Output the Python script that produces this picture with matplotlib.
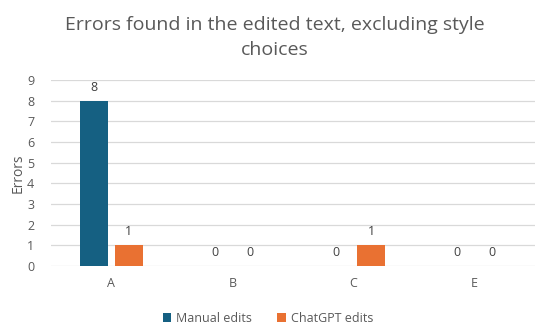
import matplotlib.pyplot as plt
import numpy as np

categories = ["A", "B", "C", "E"]
manual = [8, 0, 0, 0]
chatgpt = [1, 0, 1, 0]

plt.rcParams['font.family'] = ['Open Sans', 'DejaVu Sans']
txt = '#595959'

fig = plt.figure(figsize=(5.36, 3.25), dpi=100)
ax = fig.add_axes([0.095, 0.1815, 0.903, 0.5725])

x = np.arange(len(categories))
w = 0.23
off = 0.145
b1 = ax.bar(x - off, manual, w, color='#156082', label='Manual edits', zorder=3)
b2 = ax.bar(x + off, chatgpt, w, color='#E97132', label='ChatGPT edits', zorder=3)
for bars in (b1, b2):
    for r in bars:
        ax.annotate(f"{int(r.get_height())}", (r.get_x() + r.get_width() / 2, r.get_height()),
                    xytext=(0, 5), textcoords='offset points', ha='center', va='bottom',
                    fontsize=9, color='#404040')

ax.set_xlim(-0.5, len(categories) - 0.5)
ax.set_ylim(0, 9)
ax.set_yticks(range(0, 10))
ax.set_xticks(x)
ax.set_xticklabels(categories)
ax.tick_params(axis='both', length=0, labelsize=9, colors=txt)
ax.tick_params(axis='x', pad=8)
ax.tick_params(axis='y', pad=12)
ax.grid(axis='y', color='#D9D9D9', linewidth=0.9, zorder=0)
for s in ax.spines.values():
    s.set_visible(False)
ax.set_ylabel("Errors", fontsize=10, color=txt, labelpad=1)

fig.text(0.513, 0.952, "Errors found in the edited text, excluding style\nchoices",
         ha='center', va='top', fontsize=14, color=txt, linespacing=1.5)

fig.legend(handles=[b1, b2], loc='lower center', bbox_to_anchor=(0.5, -0.035), ncol=2,
           frameon=False, fontsize=9, labelcolor=txt, handlelength=0.7, handleheight=0.7,
           columnspacing=2.0, handletextpad=0.4)

fig.savefig("out.png", dpi=100)
